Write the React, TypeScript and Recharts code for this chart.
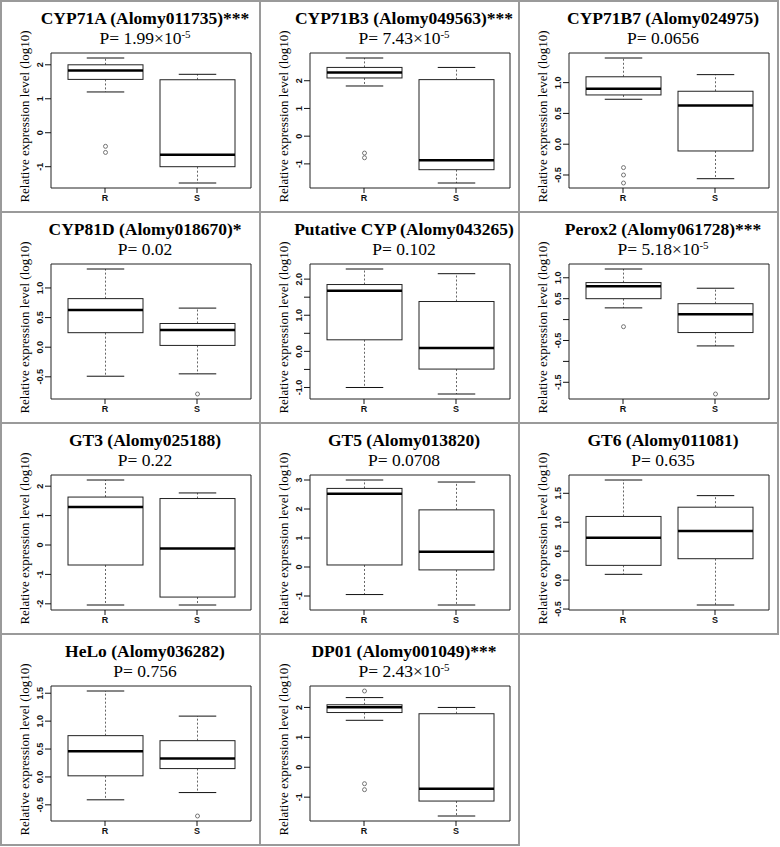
import React from 'react';
import { ComposedChart, Bar, XAxis, YAxis, CartesianGrid } from 'recharts';

const genes = [
  'CYP71A (Alomy011735)***',
  'CYP71B3 (Alomy049563)***',
  'CYP71B7 (Alomy024975)',
  'CYP81D (Alomy018670)*',
  'Putative CYP (Alomy043265)',
  'Perox2 (Alomy061728)***',
  'GT3 (Alomy025188)',
  'GT5 (Alomy013820)',
  'GT6 (Alomy011081)',
  'HeLo (Alomy036282)',
  'DP01 (Alomy001049)***',
];

const pValues = ['1.99×10', '7.43×10', '0.0656', '0.02', '0.102', '5.18×10', '0.22', '0.0708', '0.635', '0.756', '2.43×10'];
const pExponents = ['-5', '-5', '', '', '', '-5', '', '', '', '', '-5'];

const groups = ['R', 'S'];

// lower whisker, Q1, median, Q3, upper whisker
const rStats = [
  [1.2, 1.57, 1.83, 2.0, 2.2],
  [1.81, 2.1, 2.3, 2.48, 2.82],
  [0.73, 0.8, 0.9, 1.095, 1.4],
  [-0.49, 0.245, 0.63, 0.82, 1.32],
  [-1.0, 0.32, 1.68, 1.85, 2.28],
  [0.28, 0.5, 0.8, 0.885, 1.21],
  [-2.04, -0.68, 1.29, 1.63, 2.21],
  [-0.95, 0.07, 2.53, 2.71, 3.0],
  [0.1, 0.255, 0.73, 1.1, 1.73],
  [-0.41, 0.02, 0.46, 0.74, 1.54],
  [1.57, 1.83, 2.01, 2.09, 2.33],
];
const sStats = [
  [-1.48, -1.0, -0.65, 1.56, 1.72],
  [-1.69, -1.21, -0.87, 2.04, 2.48],
  [-0.56, -0.11, 0.63, 0.86, 1.13],
  [-0.45, 0.03, 0.29, 0.4, 0.66],
  [-1.18, -0.49, 0.095, 1.38, 2.15],
  [-0.63, -0.31, 0.13, 0.38, 0.75],
  [-2.04, -1.77, -0.12, 1.58, 1.77],
  [-1.31, -0.1, 0.53, 1.97, 2.93],
  [-0.43, 0.37, 0.85, 1.26, 1.46],
  [-0.28, 0.15, 0.33, 0.65, 1.09],
  [-1.63, -1.13, -0.72, 1.79, 2.0],
];
const rOutliers = [[-0.4, -0.58], [-0.61, -0.78], [-0.38, -0.5, -0.63], [], [], [-0.17], [], [], [], [], [2.55, -0.55, -0.75]];
const sOutliers = [[], [], [], [-0.79], [], [-1.78], [], [], [], [-0.7], []];

const yTicks = [
  [2, 1, 0, -1],
  [2, 1, 0, -1],
  [1, 0.5, 0, -0.5],
  [1, 0.5, 0, -0.5],
  [2, 1.5, 1, 0.5, 0, -0.5, -1],
  [1, 0.5, 0, -0.5, -1, -1.5],
  [2, 1, 0, -1, -2],
  [3, 2, 1, 0, -1],
  [1.5, 1, 0.5, 0, -0.5],
  [1.5, 1, 0.5, 0, -0.5],
  [2, 1, 0, -1],
];
const yTickLabels = [
  ['2', '1', '0', '-1'],
  ['2', '1', '0', '-1'],
  ['1.0', '0.5', '0.0', '-0.5'],
  ['1.0', '0.5', '0.0', '-0.5'],
  ['2.0', '', '1.0', '', '0.0', '', '-1.0'],
  ['1.0', '0.5', '', '-0.5', '', '-1.5'],
  ['2', '1', '0', '-1', '-2'],
  ['3', '2', '1', '0', '-1'],
  ['1.5', '1.0', '0.5', '0.0', '-0.5'],
  ['1.5', '1.0', '0.5', '0.0', '-0.5'],
  ['2', '1', '0', '-1'],
];

const SERIF = "'Liberation Serif', 'Times New Roman', serif";
const SANS = "'Liberation Sans', Arial, sans-serif";
const CELL_W = 259;
const CELL_H = 211;
const BORDER = '2px solid #9a9a9a';

const BoxShape = (props: any) => {
  const { x, y, width, height, payload } = props;
  const [lo, hi] = payload.range;
  const top = Math.min(y, y + height);
  const bot = Math.max(y, y + height);
  const py = (v: number) => bot - ((v - lo) / (hi - lo)) * (bot - top);
  const [wl, q1, med, q3, wh] = payload.stats;
  const cx = x + width / 2;
  const cap = width / 4;
  return (
    <g>
      <line x1={cx} x2={cx} y1={py(q3)} y2={py(wh)} stroke="#666" strokeDasharray="2 2" />
      <line x1={cx} x2={cx} y1={py(q1)} y2={py(wl)} stroke="#666" strokeDasharray="2 2" />
      <line x1={cx - cap} x2={cx + cap} y1={py(wh)} y2={py(wh)} stroke="#111" />
      <line x1={cx - cap} x2={cx + cap} y1={py(wl)} y2={py(wl)} stroke="#111" />
      <rect x={x} y={py(q3)} width={width} height={py(q1) - py(q3)} fill="#fff" stroke="#222" />
      <line x1={x} x2={x + width} y1={py(med)} y2={py(med)} stroke="#000" strokeWidth={2.5} />
      {payload.out.map((v: number, j: number) => (
        <circle key={j} cx={cx} cy={py(v)} r={2} fill="none" stroke="#555" strokeWidth={0.8} />
      ))}
    </g>
  );
};

const Panel = ({ i }: { i: number }) => {
  const rows = groups.map((g, k) => {
    const stats = k === 0 ? rStats[i] : sStats[i];
    const out = k === 0 ? rOutliers[i] : sOutliers[i];
    const all = [...stats, ...out];
    return { group: g, range: [Math.min(...all), Math.max(...all)], stats, out };
  });
  const lo = Math.min(...rows.map(r => r.range[0]));
  const hi = Math.max(...rows.map(r => r.range[1]));
  const pad = (hi - lo) * 0.04;
  const domain = [lo - pad, hi + pad];
  const ticks = yTicks[i];
  const labels = yTickLabels[i];

  const YTick = (p: any) => {
    const label = labels[ticks.indexOf(p.payload.value)];
    return (
      <text x={p.x} y={p.y} transform={`rotate(-90 ${p.x} ${p.y})`} textAnchor="middle"
        fontSize={9} fontFamily={SANS} fontWeight="bold" fill="#111">{label}</text>
    );
  };

  const YLabel = (p: any) => {
    const vb = p.viewBox;
    const cy = vb.y + vb.height / 2 - 4;
    const bx = 27;
    return (
      <text x={bx} y={cy} transform={`rotate(-90 ${bx} ${cy})`} textAnchor="middle"
        fontSize={13} fontFamily={SERIF} fill="#000">Relative expression level (log10)</text>
    );
  };

  return (
    <div style={{ position: 'relative', width: 257, height: 209 }}>
      <div style={{ position: 'absolute', left: 143, top: 5, transform: 'translateX(-50%)', whiteSpace: 'nowrap',
        fontFamily: SERIF, fontWeight: 'bold', fontSize: 17.5, lineHeight: '22px' }}>{genes[i]}</div>
      <div style={{ position: 'absolute', left: 143, top: 25, transform: 'translateX(-50%)', whiteSpace: 'nowrap',
        fontFamily: SERIF, fontSize: 17.5, lineHeight: '22px' }}>
        P= {pValues[i]}{pExponents[i] && <sup style={{ fontSize: 11, verticalAlign: 6, lineHeight: 0 }}>{pExponents[i]}</sup>}
      </div>
      <ComposedChart width={257} height={209} data={rows} margin={{ top: 51, right: 8, bottom: 3, left: 0 }}>
        <CartesianGrid stroke="#222" strokeDasharray="0"
          horizontalCoordinatesGenerator={({ offset }: any) => [offset.top, offset.top + offset.height]}
          verticalCoordinatesGenerator={({ offset }: any) => [offset.left, offset.left + offset.width]} />
        <XAxis dataKey="group" axisLine={false} tickSize={5} tickLine={{ stroke: '#111' }} padding={{ left: 8, right: 8 }}
          interval={0} height={20} tick={{ fontSize: 9, fontFamily: SANS, fontWeight: 'bold', fill: '#111' }} />
        <YAxis type="number" domain={domain} allowDataOverflow ticks={ticks} interval={0} width={49}
          axisLine={false} tickSize={6} tickLine={{ stroke: '#111' }} tick={<YTick />} label={<YLabel />} />
        <Bar dataKey="range" barSize={75} shape={<BoxShape />} isAnimationActive={false} />
      </ComposedChart>
    </div>
  );
};

export default function App() {
  return (
    <div style={{ position: 'absolute', left: 0, top: 0, width: 2 + 3 * CELL_W, height: 2 + 4 * CELL_H,
      borderLeft: BORDER, borderTop: BORDER, boxSizing: 'border-box', background: '#fff' }}>
      {genes.map((g, i) => (
        <div key={g} style={{ position: 'absolute', left: (i % 3) * CELL_W, top: Math.floor(i / 3) * CELL_H,
          width: CELL_W, height: CELL_H, borderRight: BORDER, borderBottom: BORDER, boxSizing: 'border-box' }}>
          <Panel i={i} />
        </div>
      ))}
    </div>
  );
}
